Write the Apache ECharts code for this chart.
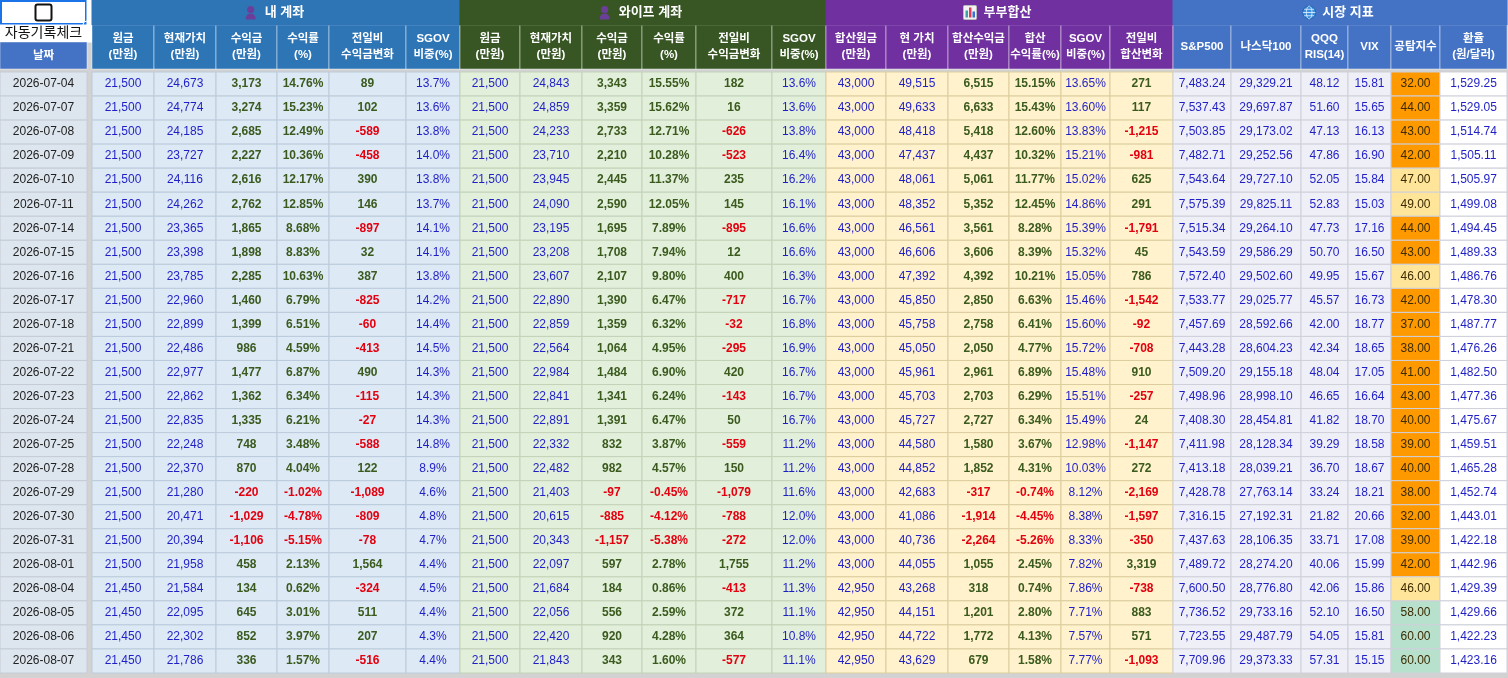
<!DOCTYPE html>
<html>
<head>
<meta charset="utf-8">
<script src="https://cdn.jsdelivr.net/npm/echarts@6/dist/echarts.min.js"></script>
<style>
  html, body { margin: 0; padding: 0; background: #fff; }
  #sheet { width: 1508px; height: 678px; }
</style>
</head>
<body>
<div id="sheet"></div>
<script>
// 날짜
const dates = ['2026-07-04','2026-07-07','2026-07-08','2026-07-09','2026-07-10','2026-07-11','2026-07-14','2026-07-15','2026-07-16','2026-07-17','2026-07-18','2026-07-21','2026-07-22','2026-07-23','2026-07-24','2026-07-25','2026-07-28','2026-07-29','2026-07-30','2026-07-31','2026-08-01','2026-08-04','2026-08-05','2026-08-06','2026-08-07']

// 내 계좌
const myPrincipal = [21500,21500,21500,21500,21500,21500,21500,21500,21500,21500,21500,21500,21500,21500,21500,21500,21500,21500,21500,21500,21500,21450,21450,21450,21450]
const myValue = [24673,24774,24185,23727,24116,24262,23365,23398,23785,22960,22899,22486,22977,22862,22835,22248,22370,21280,20471,20394,21958,21584,22095,22302,21786]
const myProfit = [3173,3274,2685,2227,2616,2762,1865,1898,2285,1460,1399,986,1477,1362,1335,748,870,-220,-1029,-1106,458,134,645,852,336]
const myRate = [14.76,15.23,12.49,10.36,12.17,12.85,8.68,8.83,10.63,6.79,6.51,4.59,6.87,6.34,6.21,3.48,4.04,-1.02,-4.78,-5.15,2.13,0.62,3.01,3.97,1.57]
const myDaily = [89,102,-589,-458,390,146,-897,32,387,-825,-60,-413,490,-115,-27,-588,122,-1089,-809,-78,1564,-324,511,207,-516]
const mySgov = [13.7,13.6,13.8,14.0,13.8,13.7,14.1,14.1,13.8,14.2,14.4,14.5,14.3,14.3,14.3,14.8,8.9,4.6,4.8,4.7,4.4,4.5,4.4,4.3,4.4]

// 와이프 계좌
const wifePrincipal = [21500,21500,21500,21500,21500,21500,21500,21500,21500,21500,21500,21500,21500,21500,21500,21500,21500,21500,21500,21500,21500,21500,21500,21500,21500]
const wifeValue = [24843,24859,24233,23710,23945,24090,23195,23208,23607,22890,22859,22564,22984,22841,22891,22332,22482,21403,20615,20343,22097,21684,22056,22420,21843]
const wifeProfit = [3343,3359,2733,2210,2445,2590,1695,1708,2107,1390,1359,1064,1484,1341,1391,832,982,-97,-885,-1157,597,184,556,920,343]
const wifeRate = [15.55,15.62,12.71,10.28,11.37,12.05,7.89,7.94,9.80,6.47,6.32,4.95,6.90,6.24,6.47,3.87,4.57,-0.45,-4.12,-5.38,2.78,0.86,2.59,4.28,1.60]
const wifeDaily = [182,16,-626,-523,235,145,-895,12,400,-717,-32,-295,420,-143,50,-559,150,-1079,-788,-272,1755,-413,372,364,-577]
const wifeSgov = [13.6,13.6,13.8,16.4,16.2,16.1,16.6,16.6,16.3,16.7,16.8,16.9,16.7,16.7,16.7,11.2,11.2,11.6,12.0,12.0,11.2,11.3,11.1,10.8,11.1]

// 부부합산
const sumPrincipal = [43000,43000,43000,43000,43000,43000,43000,43000,43000,43000,43000,43000,43000,43000,43000,43000,43000,43000,43000,43000,43000,42950,42950,42950,42950]
const sumValue = [49515,49633,48418,47437,48061,48352,46561,46606,47392,45850,45758,45050,45961,45703,45727,44580,44852,42683,41086,40736,44055,43268,44151,44722,43629]
const sumProfit = [6515,6633,5418,4437,5061,5352,3561,3606,4392,2850,2758,2050,2961,2703,2727,1580,1852,-317,-1914,-2264,1055,318,1201,1772,679]
const sumRate = [15.15,15.43,12.60,10.32,11.77,12.45,8.28,8.39,10.21,6.63,6.41,4.77,6.89,6.29,6.34,3.67,4.31,-0.74,-4.45,-5.26,2.45,0.74,2.80,4.13,1.58]
const sumSgov = [13.65,13.60,13.83,15.21,15.02,14.86,15.39,15.32,15.05,15.46,15.60,15.72,15.48,15.51,15.49,12.98,10.03,8.12,8.38,8.33,7.82,7.86,7.71,7.57,7.77]
const sumDaily = [271,117,-1215,-981,625,291,-1791,45,786,-1542,-92,-708,910,-257,24,-1147,272,-2169,-1597,-350,3319,-738,883,571,-1093]

// 시장 지표
const sp500 = [7483.24,7537.43,7503.85,7482.71,7543.64,7575.39,7515.34,7543.59,7572.40,7533.77,7457.69,7443.28,7509.20,7498.96,7408.30,7411.98,7413.18,7428.78,7316.15,7437.63,7489.72,7600.50,7736.52,7723.55,7709.96]
const nasdaq100 = [29329.21,29697.87,29173.02,29252.56,29727.10,29825.11,29264.10,29586.29,29502.60,29025.77,28592.66,28604.23,29155.18,28998.10,28454.81,28128.34,28039.21,27763.14,27192.31,28106.35,28274.20,28776.80,29733.16,29487.79,29373.33]
const qqqRsi = [48.12,51.60,47.13,47.86,52.05,52.83,47.73,50.70,49.95,45.57,42.00,42.34,48.04,46.65,41.82,39.29,36.70,33.24,21.82,33.71,40.06,42.06,52.10,54.05,57.31]
const vix = [15.81,15.65,16.13,16.90,15.84,15.03,17.16,16.50,15.67,16.73,18.77,18.65,17.05,16.64,18.70,18.58,18.67,18.21,20.66,17.08,15.99,15.86,16.50,15.81,15.15]
const fearGreed = [32,44,43,42,47,49,44,43,46,42,37,38,41,43,40,39,40,38,32,39,42,46,58,60,60]
const fxRate = [1529.25,1529.05,1514.74,1505.11,1505.97,1499.08,1494.45,1489.33,1486.76,1478.30,1487.77,1476.26,1482.50,1477.36,1475.67,1459.51,1465.28,1452.74,1443.01,1422.18,1442.96,1429.39,1429.66,1422.23,1423.16]

const FONT = '"Liberation Sans", Arial, "Noto Sans CJK KR", sans-serif'
const BLUE = '#1f1fc6'
const GREEN = '#3a5a1e'
const RED = '#e3000f'

const fmtInt = v => v.toLocaleString('en-US')
const fmtPct2 = v => v.toFixed(2) + '%'
const fmtPct1 = v => v.toFixed(1) + '%'
const fmtDec2 = v => v.toLocaleString('en-US', { minimumFractionDigits: 2, maximumFractionDigits: 2 })
const signColor = v => (v < 0 ? RED : GREEN)
const fearFill = v => (v >= 55 ? '#b7e1cd' : v >= 46 ? '#ffe599' : '#ff9900')

const sections = [
  { name: '내 계좌', icon: 'person', head: '#2e75b6', cell: '#dde9f5', line: '#bccbdb' },
  { name: '와이프 계좌', icon: 'person', head: '#375623', cell: '#e2efda', line: '#c3d2b9' },
  { name: '부부합산', icon: 'chart', head: '#7030a0', cell: '#fff2cc', line: '#dccd9f' },
  { name: '시장 지표', icon: 'globe', head: '#4472c4', cell: '#efeff7', line: '#cfd0da' }
]

// 열 구성 (w = 열 너비)
const columns = [
  { date: true, w: 87, vals: dates, fmt: v => v, color: '#222' },
  { gap: true, w: 5 },
  { sec: 0, title: '원금\n(만원)', w: 62, vals: myPrincipal, fmt: fmtInt, color: BLUE },
  { sec: 0, title: '현재가치\n(만원)', w: 62, vals: myValue, fmt: fmtInt, color: BLUE },
  { sec: 0, title: '수익금\n(만원)', w: 61, vals: myProfit, fmt: fmtInt, color: signColor, bold: true },
  { sec: 0, title: '수익률\n(%)', w: 52, vals: myRate, fmt: fmtPct2, color: signColor, bold: true },
  { sec: 0, title: '전일비\n수익금변화', w: 77, vals: myDaily, fmt: fmtInt, color: signColor, bold: true },
  { sec: 0, title: 'SGOV\n비중(%)', w: 54, vals: mySgov, fmt: fmtPct1, color: BLUE },
  { sec: 1, title: '원금\n(만원)', w: 60, vals: wifePrincipal, fmt: fmtInt, color: BLUE },
  { sec: 1, title: '현재가치\n(만원)', w: 62, vals: wifeValue, fmt: fmtInt, color: BLUE },
  { sec: 1, title: '수익금\n(만원)', w: 60, vals: wifeProfit, fmt: fmtInt, color: signColor, bold: true },
  { sec: 1, title: '수익률\n(%)', w: 54, vals: wifeRate, fmt: fmtPct2, color: signColor, bold: true },
  { sec: 1, title: '전일비\n수익금변화', w: 76, vals: wifeDaily, fmt: fmtInt, color: signColor, bold: true },
  { sec: 1, title: 'SGOV\n비중(%)', w: 54, vals: wifeSgov, fmt: fmtPct1, color: BLUE },
  { sec: 2, title: '합산원금\n(만원)', w: 60, vals: sumPrincipal, fmt: fmtInt, color: BLUE },
  { sec: 2, title: '현 가치\n(만원)', w: 62, vals: sumValue, fmt: fmtInt, color: BLUE },
  { sec: 2, title: '합산수익금\n(만원)', w: 61, vals: sumProfit, fmt: fmtInt, color: signColor, bold: true },
  { sec: 2, title: '합산\n수익률(%)', w: 52, vals: sumRate, fmt: fmtPct2, color: signColor, bold: true },
  { sec: 2, title: 'SGOV\n비중(%)', w: 49, vals: sumSgov, fmt: fmtPct2, color: BLUE },
  { sec: 2, title: '전일비\n합산변화', w: 63, vals: sumDaily, fmt: fmtInt, color: signColor, bold: true },
  { sec: 3, title: 'S&P500', w: 58, vals: sp500, fmt: fmtDec2, color: BLUE },
  { sec: 3, title: '나스닥100', w: 70, vals: nasdaq100, fmt: fmtDec2, color: BLUE },
  { sec: 3, title: 'QQQ\nRIS(14)', w: 47, vals: qqqRsi, fmt: fmtDec2, color: BLUE },
  { sec: 3, title: 'VIX', w: 43, vals: vix, fmt: fmtDec2, color: BLUE },
  { sec: 3, title: '공탐지수', w: 49, vals: fearGreed, fmt: fmtDec2, color: '#3b2b00', fill: fearFill },
  { sec: 3, title: '환율\n(원/달러)', w: 67, vals: fxRate, fmt: fmtDec2, color: BLUE, fill: () => '#ffffff' }
]
let acc = 0
columns.forEach(c => { c.x0 = acc; acc += c.w; c.x1 = acc })
const totalW = acc

// 헤더 셀 (y0/y1 = 헤더 행 경계)
const headCells = []
columns.forEach(c => {
  if (c.date) {
    headCells.push({ x0: c.x0, x1: c.x1, y0: 0, y1: 25, kind: 'check', fill: '#ffffff' })
    headCells.push({ x0: c.x0, x1: c.x1, y0: 25, y1: 42, kind: 'label', text: '자동기록체크', fill: '#ffffff' })
    headCells.push({ x0: c.x0, x1: c.x1, y0: 42, y1: 69, kind: 'name', text: '날짜', fill: '#4472c4' })
  } else if (c.gap) {
    headCells.push({ x0: c.x0, x1: c.x1, y0: 0, y1: 42, kind: 'blank', fill: '#ffffff' })
  } else {
    headCells.push({ x0: c.x0, x1: c.x1, y0: 25, y1: 69, kind: 'name', text: c.title, fill: sections[c.sec].head })
  }
})
sections.forEach((s, k) => {
  const cols = columns.filter(c => c.sec === k)
  headCells.push({ x0: cols[0].x0, x1: cols[cols.length - 1].x1, y0: 0, y1: 25, kind: 'group', text: s.name, icon: s.icon, fill: s.head })
})

function textWidth (str, size) {
  let w = 0
  for (const ch of str) w += /[\uac00-\ud7a3]/.test(ch) ? size : ch === ' ' ? size * 0.28 : size * 0.6
  return w
}

function iconShapes (kind, x, cy) {
  if (kind === 'person') {
    return [
      { type: 'circle', shape: { cx: x + 6, cy: cy - 3, r: 3.6 }, style: { fill: '#6b3f99' } },
      { type: 'rect', shape: { x: x + 1, y: cy + 1, width: 10, height: 6, r: [5, 5, 1, 1] }, style: { fill: '#6b3f99' } }
    ]
  }
  if (kind === 'chart') {
    return [
      { type: 'rect', shape: { x: x, y: cy - 7, width: 13, height: 14, r: 1 }, style: { fill: '#f2f2f2', stroke: '#bbbbbb', lineWidth: 1 } },
      { type: 'rect', shape: { x: x + 2, y: cy - 2, width: 2.5, height: 7 }, style: { fill: '#3aa2a8' } },
      { type: 'rect', shape: { x: x + 5.5, y: cy - 5, width: 2.5, height: 10 }, style: { fill: '#e03c5a' } },
      { type: 'rect', shape: { x: x + 9, y: cy - 1, width: 2.5, height: 6 }, style: { fill: '#3c6fd6' } }
    ]
  }
  return [
    { type: 'circle', shape: { cx: x + 7, cy: cy, r: 6.5 }, style: { fill: '#3d8fe0', stroke: '#1d5fa8', lineWidth: 0.8 } },
    { type: 'ellipse', shape: { cx: x + 7, cy: cy, rx: 2.8, ry: 6.3 }, style: { fill: 'none', stroke: '#d6ecff', lineWidth: 0.9 } },
    { type: 'line', shape: { x1: x + 0.8, y1: cy, x2: x + 13.2, y2: cy }, style: { stroke: '#d6ecff', lineWidth: 0.9 } },
    { type: 'line', shape: { x1: x + 2, y1: cy - 3.2, x2: x + 12, y2: cy - 3.2 }, style: { stroke: '#d6ecff', lineWidth: 0.8 } },
    { type: 'line', shape: { x1: x + 2, y1: cy + 3.2, x2: x + 12, y2: cy + 3.2 }, style: { stroke: '#d6ecff', lineWidth: 0.8 } }
  ]
}

function renderHead (params, api) {
  const c = headCells[params.dataIndex]
  const a = api.coord([api.value(0), api.value(1)])
  const b = api.coord([api.value(2), api.value(3)])
  const x = a[0], y = a[1], w = b[0] - a[0], h = b[1] - a[1]
  const cx = x + w / 2, cy = y + h / 2
  const kids = [{
    type: 'rect',
    shape: { x: x, y: y, width: w, height: h },
    style: { fill: c.fill, stroke: c.kind === 'name' ? 'rgba(255,255,255,0.45)' : c.fill, lineWidth: 1 }
  }]
  if (c.kind === 'check') {
    kids.push({ type: 'rect', shape: { x: cx - 8, y: cy - 8, width: 16, height: 16, r: 2 }, style: { fill: '#fff', stroke: '#111', lineWidth: 2 } })
    kids.push({ type: 'rect', shape: { x: x + 1, y: y + 1, width: w - 2, height: h - 2 }, style: { fill: 'none', stroke: '#1a73e8', lineWidth: 2 } })
    kids.push({ type: 'circle', shape: { cx: x + w, cy: y + h, r: 4 }, style: { fill: '#1a73e8', stroke: '#fff', lineWidth: 1 } })
  } else if (c.kind === 'label') {
    kids.push({ type: 'text', style: { text: c.text, x: cx, y: cy, align: 'center', verticalAlign: 'middle', fill: '#111', fontSize: 14, fontFamily: FONT } })
  } else if (c.kind === 'name') {
    kids.push({ type: 'text', style: { text: c.text, x: cx, y: cy, align: 'center', verticalAlign: 'middle', fill: '#fff', fontSize: 11.5, lineHeight: 16, fontWeight: 'bold', fontFamily: FONT } })
  } else if (c.kind === 'group') {
    const tw = textWidth(c.text, 13)
    const start = cx - (tw + 20) / 2
    kids.push(...iconShapes(c.icon, start, cy))
    kids.push({ type: 'text', style: { text: c.text, x: start + 20, y: cy, align: 'left', verticalAlign: 'middle', fill: '#fff', fontSize: 13, fontWeight: 'bold', fontFamily: FONT } })
  }
  return { type: 'group', children: kids }
}

function renderCell (params, api) {
  const i = api.value(1)
  const col = columns[api.value(2)]
  const a = api.coord([col.x0, i])
  const b = api.coord([col.x1, i])
  const h = api.size([0, 1])[1]
  const v = col.vals[i]
  const sec = col.date ? null : sections[col.sec]
  const fill = col.fill ? col.fill(v) : col.date ? '#dde5ee' : sec.cell
  const line = col.date ? '#c5ccd6' : sec.line
  const x = a[0], y = a[1] - h / 2, w = b[0] - a[0]
  return {
    type: 'group',
    children: [
      { type: 'rect', shape: { x: x, y: y, width: w, height: h }, style: { fill: fill, stroke: line, lineWidth: 1 } },
      {
        type: 'text',
        style: {
          text: col.fmt(v), x: x + w / 2, y: a[1], align: 'center', verticalAlign: 'middle',
          fill: typeof col.color === 'function' ? col.color(v) : col.color,
          fontSize: 12, fontWeight: col.bold ? 'bold' : 'normal', fontFamily: FONT
        }
      }
    ]
  }
}

const cellData = []
dates.forEach((d, i) => {
  columns.forEach((c, j) => { if (!c.gap) cellData.push([c.x0, i, j]) })
})

const chart = echarts.init(document.getElementById('sheet'))
chart.setOption({
  backgroundColor: '#d2d2d2',
  animation: false,
  grid: [
    { left: 0, top: 0, width: totalW, height: 69 },
    { left: 0, top: 72, width: totalW, height: 601 }
  ],
  xAxis: [
    { gridIndex: 0, type: 'value', min: 0, max: totalW, show: false },
    { gridIndex: 1, type: 'value', min: 0, max: totalW, show: false }
  ],
  yAxis: [
    { gridIndex: 0, type: 'value', min: 0, max: 69, inverse: true, show: false },
    { gridIndex: 1, type: 'category', data: dates, inverse: true, show: false }
  ],
  series: [
    {
      type: 'custom',
      xAxisIndex: 0,
      yAxisIndex: 0,
      renderItem: renderHead,
      encode: { x: [0, 2], y: [1, 3] },
      data: headCells.map(c => [c.x0, c.y0, c.x1, c.y1]),
      silent: true
    },
    {
      type: 'custom',
      xAxisIndex: 1,
      yAxisIndex: 1,
      renderItem: renderCell,
      encode: { x: 0, y: 1 },
      data: cellData,
      silent: true
    }
  ]
})
</script>
</body>
</html>
